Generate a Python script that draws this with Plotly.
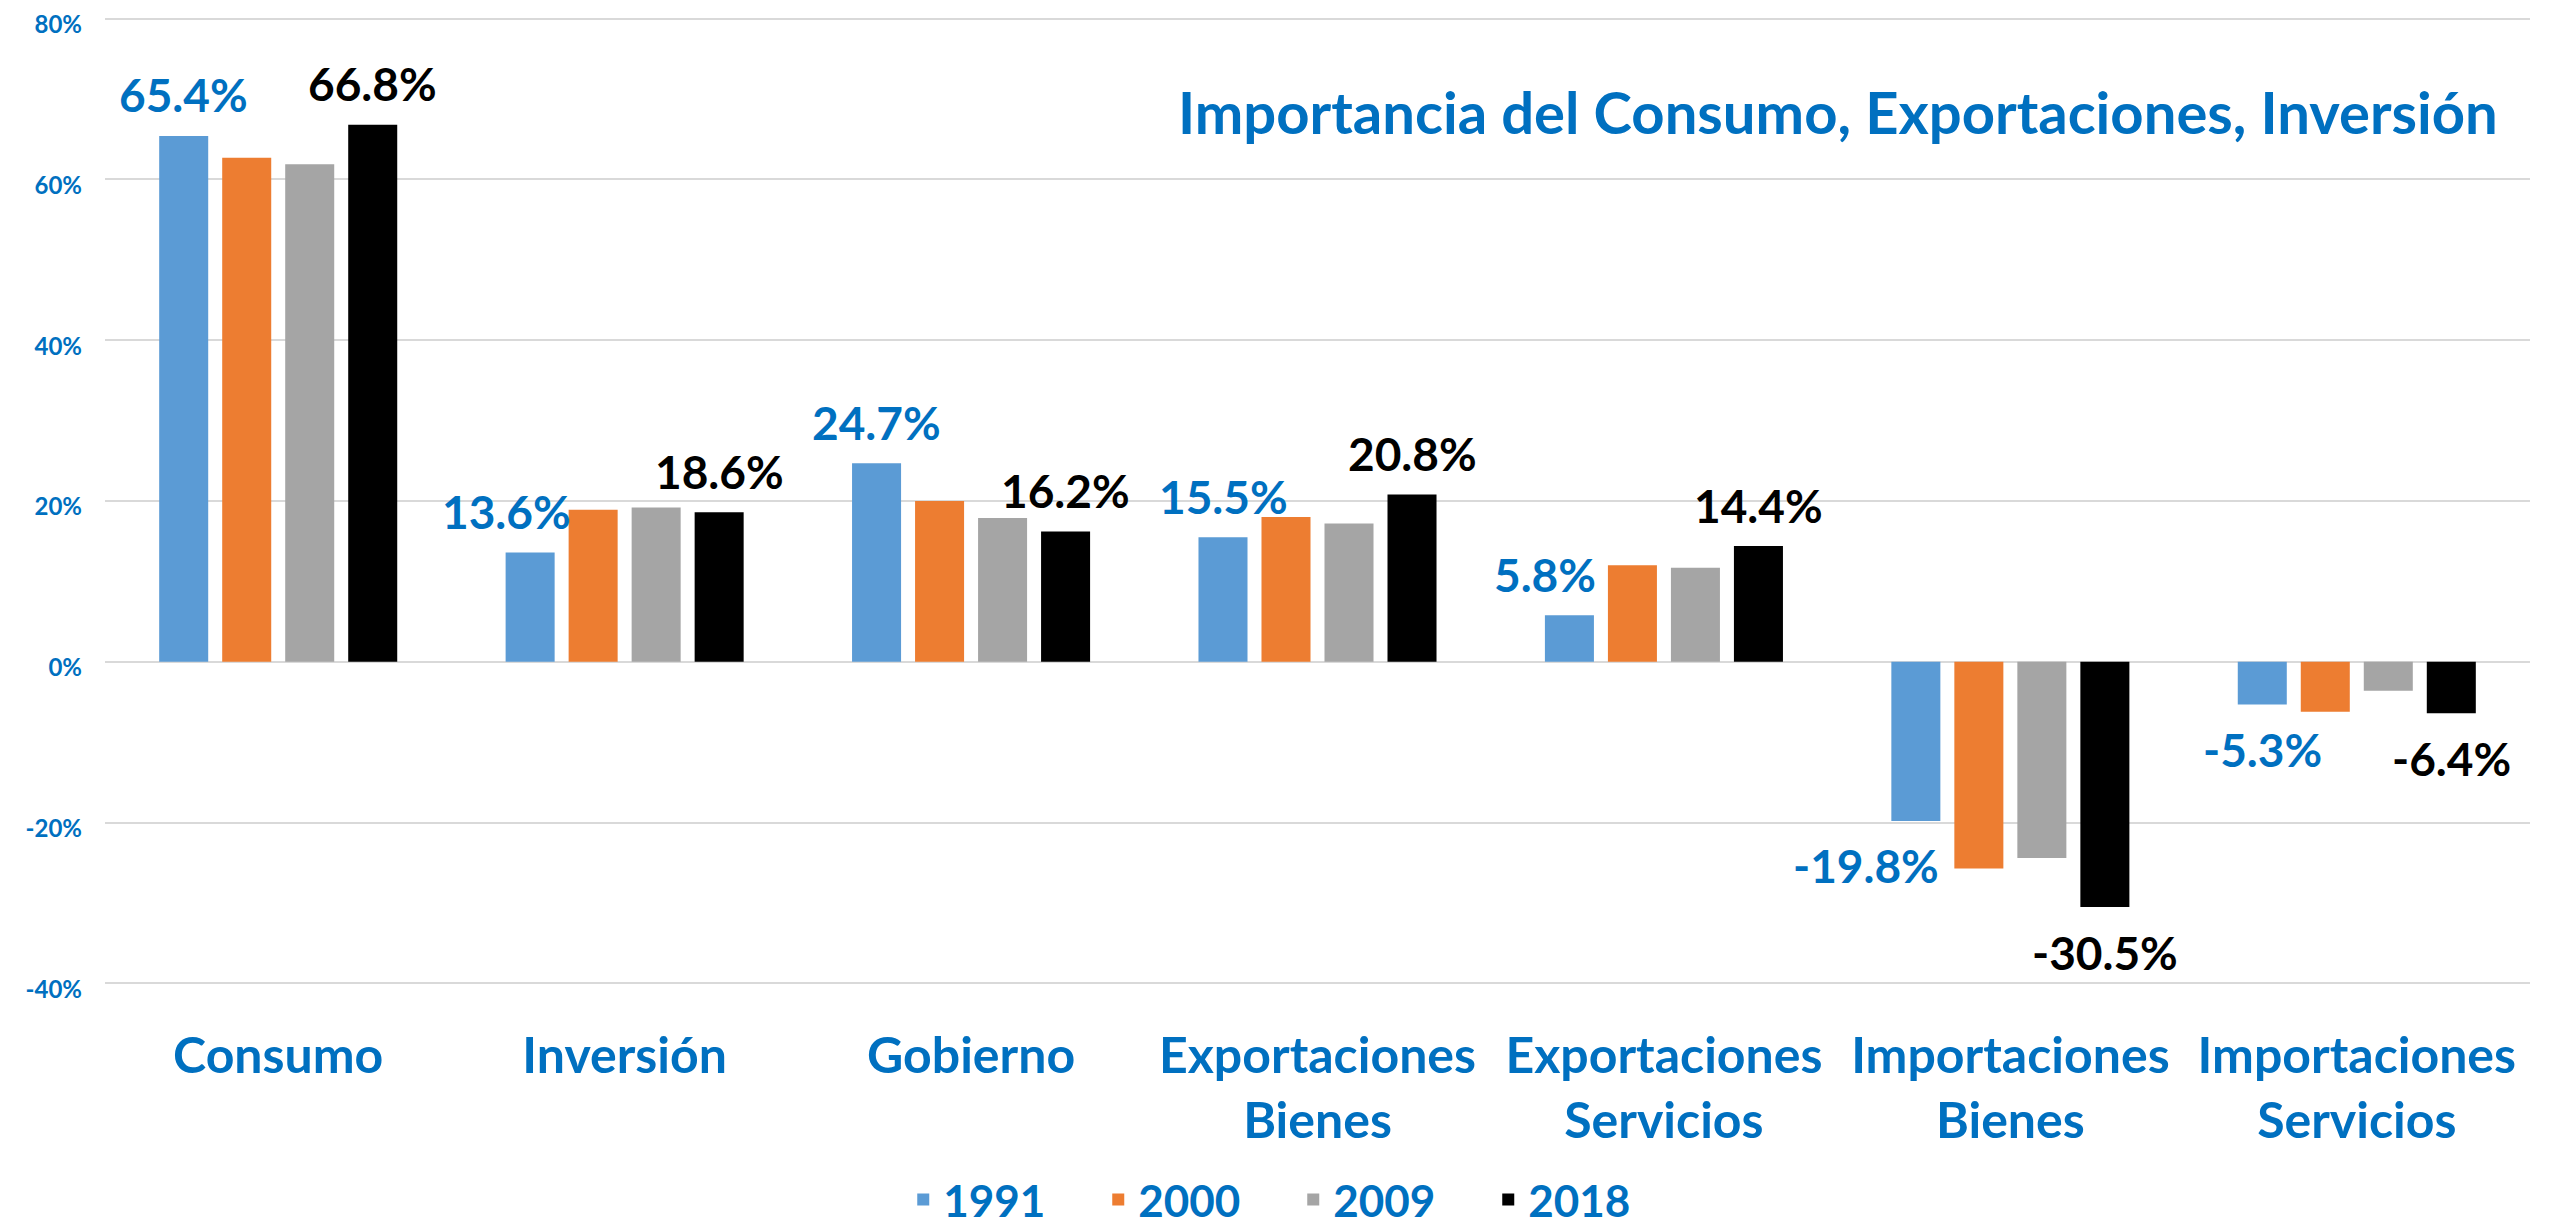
import plotly.graph_objects as go

categories = ["Consumo", "Inversión", "Gobierno", "Exportaciones<br>Bienes",
              "Exportaciones<br>Servicios", "Importaciones<br>Bienes", "Importaciones<br>Servicios"]
years = ["1991", "2000", "2009", "2018"]
v1991 = [65.4, 13.6, 24.7, 15.5, 5.8, -19.8, -5.3]
v2000 = [62.7, 18.9, 20.0, 18.0, 12.0, -25.7, -6.2]
v2009 = [61.9, 19.2, 17.9, 17.2, 11.7, -24.4, -3.6]
v2018 = [66.8, 18.6, 16.2, 20.8, 14.4, -30.5, -6.4]
series = [v1991, v2000, v2009, v2018]
colors = ["#5B9BD5", "#ED7D31", "#A5A5A5", "#000000"]
title_text = "Importancia del Consumo, Exportaciones, Inversión"
tick_vals = [-40, -20, 0, 20, 40, 60, 80]
tick_text = ["-40%", "-20%", "0%", "20%", "40%", "60%", "80%"]

BLUE = "#0070C0"
FONT = "Lato"

fig = go.Figure()
for name, vals, col in zip(years, series, colors):
    fig.add_trace(go.Bar(x=categories, y=vals, name=name, marker_color=col,
                         marker_line_width=0, hoverinfo="skip"))

# data labels (1991 in blue, 2018 in black)
pitch = 63
label_dx_1991 = [0, -24, 0, 0, -24, -50, 0]
for idx, (vals, col, off) in enumerate([(v1991, BLUE, -1.5), (v2018, "#000000", 1.5)]):
    for i, (c, v) in enumerate(zip(categories, vals)):
        dx = off * pitch + (label_dx_1991[i] if idx == 0 else 0)
        fig.add_annotation(x=c, y=v, xref="x", yref="y", text=f"{v:.1f}%",
                           showarrow=False, xanchor="center", yanchor="middle",
                           xshift=dx, yshift=41 if v >= 0 else -45,
                           font=dict(family=FONT, size=46, color=col, weight=700))

fig.add_annotation(x=0.9876, y=0.9026, xref="paper", yref="paper", text=title_text,
                   showarrow=False, xanchor="right", yanchor="middle",
                   font=dict(family=FONT, size=58, color=BLUE, weight=700))

fig.update_layout(
    width=2554, height=1225,
    margin=dict(l=97, r=32, t=9, b=248, autoexpand=False),
    paper_bgcolor="white", plot_bgcolor="white",
    barmode="group", bargap=0.2725, bargroupgap=0.222,
    showlegend=True,
    legend=dict(orientation="h", x=0.49, y=-0.222, xanchor="center", yanchor="middle",
                font=dict(family=FONT, size=44, color=BLUE, weight=700),
                entrywidth=150, entrywidthmode="pixels", itemwidth=30),
    font=dict(family=FONT),
)
fig.update_xaxes(showgrid=False, showline=False, ticks="", automargin=False,
                 tickfont=dict(family=FONT, size=50, color=BLUE, weight=700),
                 ticklabelstandoff=37)
fig.update_yaxes(range=[-40.2, 80.2], tickmode="array", tickvals=tick_vals, ticktext=tick_text,
                 showgrid=True, gridcolor="#D9D9D9", gridwidth=2, automargin=False,
                 zeroline=True, zerolinecolor="#D9D9D9", zerolinewidth=2,
                 showline=False, ticks="", ticklabeloverflow="allow", ticklabelshift=6,
                 tickfont=dict(family=FONT, size=24, color=BLUE, weight=700),
                 ticklabelstandoff=22)

fig.write_html("out.html")
